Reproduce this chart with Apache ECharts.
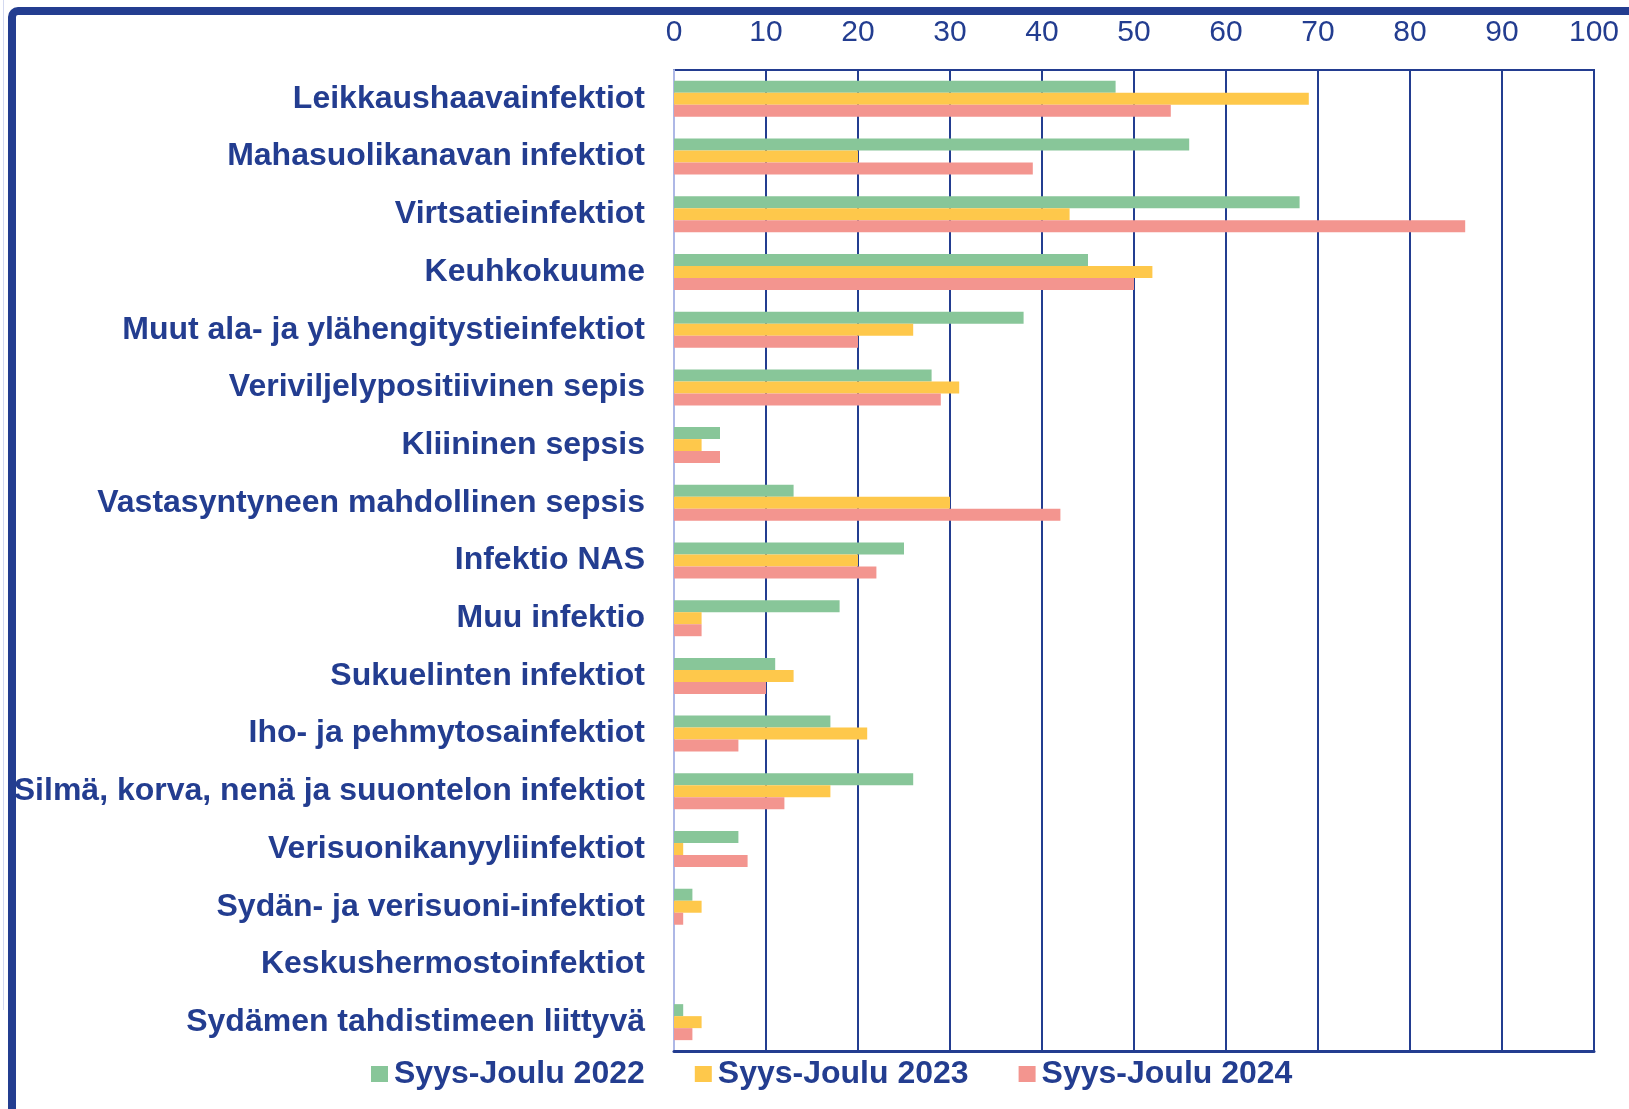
<!DOCTYPE html>
<html>
<head>
<meta charset="utf-8">
<script src="https://cdn.jsdelivr.net/npm/echarts@6/dist/echarts.min.js"></script>
<style>
html,body{margin:0;padding:0;background:#fff;}
#chart{width:1629px;height:1109px;}
</style>
</head>
<body>
<div id="chart"></div>
<script>
var categories = [
  "Leikkaushaavainfektiot",
  "Mahasuolikanavan infektiot",
  "Virtsatieinfektiot",
  "Keuhkokuume",
  "Muut ala- ja ylähengitystieinfektiot",
  "Veriviljelypositiivinen sepis",
  "Kliininen sepsis",
  "Vastasyntyneen mahdollinen sepsis",
  "Infektio NAS",
  "Muu infektio",
  "Sukuelinten infektiot",
  "Iho- ja pehmytosainfektiot",
  "Silmä, korva, nenä ja suuontelon infektiot",
  "Verisuonikanyyliinfektiot",
  "Sydän- ja verisuoni-infektiot",
  "Keskushermostoinfektiot",
  "Sydämen tahdistimeen liittyvä"
];
var seriesNames = ["Syys-Joulu 2022", "Syys-Joulu 2023", "Syys-Joulu 2024"];
var values2022 = [48, 56, 68, 45, 38, 28, 5, 13, 25, 18, 11, 17, 26, 7, 2, 0, 1];
var values2023 = [69, 20, 43, 52, 26, 31, 3, 30, 20, 3, 13, 21, 17, 1, 3, 0, 3];
var values2024 = [54, 39, 86, 50, 20, 29, 5, 42, 22, 3, 10, 7, 12, 8, 1, 0, 2];
var xTicks = [0, 10, 20, 30, 40, 50, 60, 70, 80, 90, 100];

var navy = '#233D90';
var colors = ['#88C699', '#FEC84B', '#F3958F'];
var allValues = [values2022, values2023, values2024];

var chart = echarts.init(document.getElementById('chart'), null, {renderer: 'canvas'});

var series = seriesNames.map(function (name, i) {
  return {
    name: name,
    type: 'bar',
    data: allValues[i],
    barWidth: 12,
    barGap: '0%',
    itemStyle: {color: colors[i]},
    z: 3
  };
});

chart.setOption({
  animation: false,
  backgroundColor: '#ffffff',
  textStyle: {fontFamily: 'Liberation Sans, Arial, sans-serif'},
  grid: {
    left: 674, right: 35, top: 70, bottom: 58,
    show: true, borderColor: navy, borderWidth: 2, backgroundColor: 'transparent'
  },
  legend: {
    left: 366, top: 1053,
    itemWidth: 17, itemHeight: 16, itemGap: 50,
    icon: 'rect',
    data: seriesNames,
    textStyle: {
      color: navy, fontSize: 32, fontWeight: 'bold',
      fontFamily: 'Liberation Sans, Arial, sans-serif',
      padding: [0, 0, 0, 1]
    }
  },
  xAxis: [{
    type: 'value', position: 'top', min: 0, max: 100, interval: 10,
    axisLine: {show: false}, axisTick: {show: false},
    axisLabel: {
      color: navy, fontSize: 30, margin: 22,
      fontFamily: 'Liberation Sans, Arial, sans-serif',
      formatter: function (v) { return xTicks.indexOf(v) >= 0 ? String(v) : ''; }
    },
    splitLine: {show: true, lineStyle: {color: navy, width: 2}}
  }, {
    type: 'value', position: 'bottom', min: 0, max: 100, interval: 10,
    axisLine: {show: true, lineStyle: {color: navy, width: 3}},
    axisTick: {show: false}, axisLabel: {show: false}, splitLine: {show: false}
  }],
  yAxis: {
    type: 'category', inverse: true, data: categories,
    axisTick: {show: false},
    axisLine: {show: true, lineStyle: {color: '#AEB8E6', width: 2}},
    axisLabel: {
      color: navy, fontSize: 32, fontWeight: 'bold', margin: 29,
      padding: [4, 0, 0, 0],
      fontFamily: 'Liberation Sans, Arial, sans-serif'
    },
    splitLine: {show: false}
  },
  graphic: [
    {type: 'rect', silent: true, z: 100,
     shape: {x: 12, y: 11, width: 1800, height: 1300, r: 6},
     style: {fill: 'none', stroke: navy, lineWidth: 8}},
    {type: 'line', silent: true, z: 99,
     shape: {x1: 3.5, y1: 0, x2: 3.5, y2: 1010},
     style: {stroke: '#D3D9F0', lineWidth: 1}}
  ],
  series: series
});
</script>
</body>
</html>
